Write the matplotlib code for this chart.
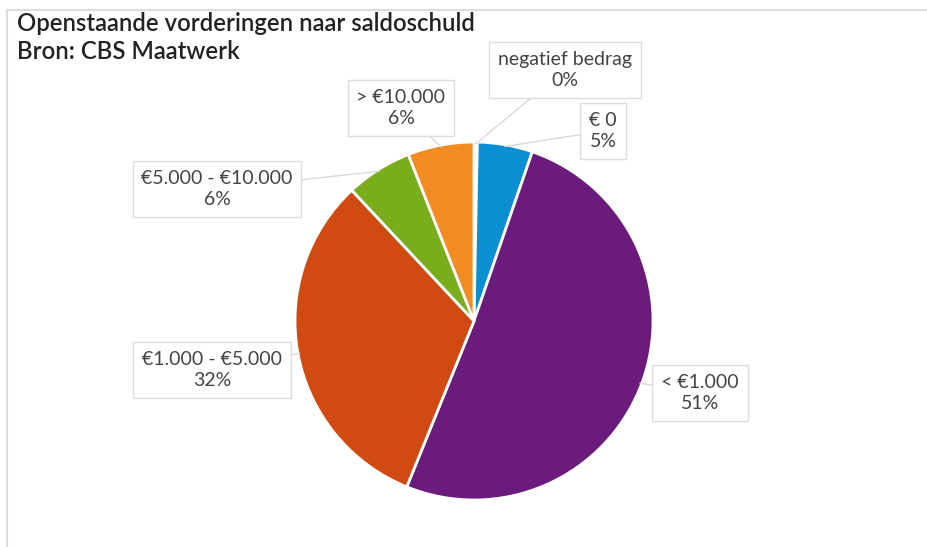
import numpy as np
import matplotlib.pyplot as plt
from matplotlib.lines import Line2D

plt.rcParams['font.family'] = ['Lato', 'DejaVu Sans']

title = "Openstaande vorderingen naar saldoschuld\nBron: CBS Maatwerk"
labels = ["negatief bedrag", "€ 0", "< €1.000", "€1.000 - €5.000", "€5.000 - €10.000", "> €10.000"]
values = [0.3, 5, 51, 32, 6, 6]
pct_text = ["0%", "5%", "51%", "32%", "6%", "6%"]
colors = ["#f6e3c8", "#0b8fd3", "#6b1b7b", "#d04a12", "#7aad1b", "#f28b22"]

# label box centres in pixels (from top-left)
label_pos = [(565, 70), (603, 131), (700, 393), (212, 370), (217, 189), (401, 108)]

W, H = 927, 547
fig = plt.figure(figsize=(W / 100, H / 100), dpi=100)
fig.patch.set_facecolor("white")

cx, cy, r = 474, 321, 179
ax = fig.add_axes([(cx - r) / W, (H - cy - r) / H, 2 * r / W, 2 * r / H])
wedges, _ = ax.pie(values, colors=colors, startangle=90, counterclock=False,
                   radius=1, wedgeprops=dict(edgecolor="white", linewidth=2))
ax.set_xlim(-1, 1)
ax.set_ylim(-1, 1)
ax.set_aspect("equal")
ax.axis("off")

for w, lab, pct, (px, py) in zip(wedges, labels, pct_text, label_pos):
    mid = np.deg2rad((w.theta1 + w.theta2) / 2)
    tx, ty = np.cos(mid) * 0.99, np.sin(mid) * 0.99
    ax.annotate(lab + "\n" + pct, xy=(tx, ty), xycoords="data",
                xytext=(px, H - py), textcoords="figure pixels",
                ha="center", va="center", fontsize=14, color="#444444",
                linespacing=1.35,
                bbox=dict(boxstyle="square,pad=0.45", fc="white", ec="#dddddd", lw=1),
                arrowprops=dict(arrowstyle="-", color="#d8d8d8", lw=1,
                                shrinkA=0, shrinkB=0),
                annotation_clip=False)

fig.text(17 / W, 1 - 12 / H, title, ha="left", va="top", fontsize=17.2,
         fontweight="semibold", color="#222222", linespacing=1.25)

fig.add_artist(Line2D([7 / W, 1], [1 - 9.5 / H, 1 - 9.5 / H], transform=fig.transFigure,
                      color="#dcdcdc", lw=1.5))
fig.add_artist(Line2D([7 / W, 7 / W], [0, 1 - 9.5 / H], transform=fig.transFigure,
                      color="#dcdcdc", lw=1.5))

fig.savefig("out.png", dpi=100)
